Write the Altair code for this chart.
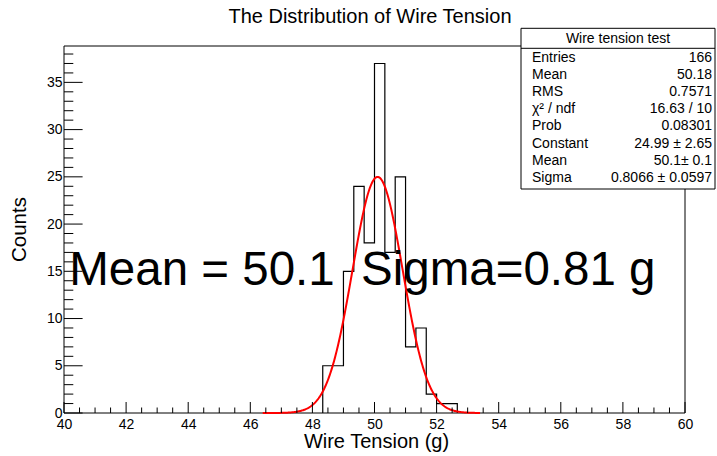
import altair as alt
import pandas as pd

# ---------------- data ----------------
bin_left = [48.3333, 48.6667, 49.0, 49.3333, 49.6667, 50.0, 50.3333,
            50.6667, 51.0, 51.3333, 51.6667, 52.0, 52.3333]
counts = [5, 5, 15, 24, 18, 37, 17, 25, 7, 9, 2, 1, 1]
bin_width = 1 / 3

fit_const, fit_mean, fit_sigma = 24.99, 50.1, 0.8066
fit_range = [46.4, 53.4]

x_major = [40, 42, 44, 46, 48, 50, 52, 54, 56, 58, 60]
x_minor = [m + d for m in x_major[:-1] for d in (0.5, 1.0, 1.5)]
y_major = [0, 5, 10, 15, 20, 25, 30, 35]
y_minor = [v for v in range(0, 39) if v % 5]

stats_title = "Wire tension test"
stats_labels = ["Entries", "Mean", "RMS", "χ² / ndf", "Prob", "Constant", "Mean", "Sigma"]
stats_values = ["166", "50.18", "0.7571", "16.63 / 10", "0.08301",
                "24.99 ± 2.65", "50.1± 0.1", "0.8066 ± 0.0597"]

x_domain = [40, 60]
y_domain = [0, 38.85]

FONT = "Liberation Sans"
W, H = 621, 367

# ---------------- build ----------------
hist_x = [bin_left[0]] + bin_left + [bin_left[-1] + bin_width]
hist_y = [0] + counts + [0]
hist_df = pd.DataFrame({"x": hist_x, "y": hist_y, "i": list(range(len(hist_x)))})

xs = alt.Scale(domain=x_domain, nice=False, zero=False)
ys = alt.Scale(domain=y_domain, nice=False, zero=False)
one = alt.Data(values=[{}])

x_axis = alt.Axis(
    values=x_major, tickSize=0, domain=False, grid=False, labelPadding=4,
    labelFontSize=14, labelFont=FONT, labelColor="#000", labelFlush=False,
    title="Wire Tension (g)", titleFont=FONT, titleFontSize=20,
    titleFontWeight="normal", titleColor="#000",
    titleX=312, titleY=34, titleBaseline="alphabetic", titleAlign="center")
y_axis = alt.Axis(
    values=y_major, tickSize=0, domain=False, grid=False, labelPadding=2,
    labelFontSize=14, labelFont=FONT, labelColor="#000",
    title="Counts", titleFont=FONT, titleFontSize=20.5,
    titleFontWeight="normal", titleColor="#000", titleAngle=270,
    titleX=-39, titleY=183, titleBaseline="alphabetic", titleAlign="center")

hist = alt.Chart(hist_df).mark_line(interpolate="step-after", color="black", strokeWidth=1.2).encode(
    x=alt.X("x:Q", scale=xs, axis=x_axis, title="Wire Tension (g)"),
    y=alt.Y("y:Q", scale=ys, axis=y_axis, title="Counts"),
    order="i:Q",
)

frame = alt.Chart(one).mark_rect(fillOpacity=0, stroke="black", strokeWidth=1).encode(
    x=alt.datum(x_domain[0]), x2=alt.datum(x_domain[1]),
    y=alt.datum(y_domain[0]), y2=alt.datum(y_domain[1]),
)

gauss = alt.Chart(alt.sequence(fit_range[0], fit_range[1] + 0.001, 0.02, as_="x")).transform_calculate(
    y=f"{fit_const}*exp(-0.5*pow((datum.x-{fit_mean})/{fit_sigma},2))"
).mark_line(color="#ff0000", strokeWidth=2).encode(
    x=alt.X("x:Q", title="Wire Tension (g)"), y=alt.Y("y:Q", title="Counts")
)

def yticks(vals, length):
    return alt.Chart(pd.DataFrame({"v": vals})).mark_rule(color="black", strokeWidth=1).encode(
        y=alt.Y("v:Q", title="Counts"), x=alt.value(0), x2=alt.value(length))

def xticks(vals, length):
    return alt.Chart(pd.DataFrame({"v": vals})).mark_rule(color="black", strokeWidth=1).encode(
        x=alt.X("v:Q", title="Wire Tension (g)"), y=alt.value(H), y2=alt.value(H - length))

big_text = alt.Chart(one).mark_text(
    font=FONT, fontSize=47.5, align="left", baseline="alphabetic", color="black"
).encode(x=alt.datum(40.17), y=alt.datum(13.6),
         text=alt.value("Mean = 50.1\u00a0\u00a0Sigma=0.81 g"))

box = alt.Chart(one).mark_rect(fill="white", stroke="black", strokeWidth=1).encode(
    x=alt.value(457), x2=alt.value(651), y=alt.value(-17.7), y2=alt.value(143))
box_sep = alt.Chart(one).mark_rule(color="black", strokeWidth=1).encode(
    x=alt.value(457), x2=alt.value(651), y=alt.value(2.3))
box_title = alt.Chart(one).mark_text(
    font=FONT, fontSize=14, align="center", baseline="alphabetic", color="black"
).encode(x=alt.value(554), y=alt.value(-2.7), text=alt.value(stats_title))
box_labels = alt.Chart(one).mark_text(
    font=FONT, fontSize=14, align="left", baseline="alphabetic", color="black",
    lineBreak="\n", lineHeight=17.2
).encode(x=alt.value(468), y=alt.value(15.7), text=alt.value("\n".join(stats_labels)))
box_values = alt.Chart(one).mark_text(
    font=FONT, fontSize=14, align="right", baseline="alphabetic", color="black",
    lineBreak="\n", lineHeight=17.2
).encode(x=alt.value(648), y=alt.value(15.7), text=alt.value("\n".join(stats_values)))

title = alt.Chart(one).mark_text(
    font=FONT, fontSize=20, align="center", baseline="alphabetic", color="black"
).encode(x=alt.value(306), y=alt.value(-23), text=alt.value("The Distribution of Wire Tension"))

chart = alt.layer(
    hist, frame, gauss,
    yticks(y_major, 18.6), yticks(y_minor, 9.3),
    xticks(x_major, 11), xticks(x_minor, 5.5),
    big_text, box, box_sep, box_title, box_labels, box_values, title,
).properties(
    width=W, height=H,
    padding={"left": 64, "top": 46, "right": 32, "bottom": 43},
    autosize=alt.AutoSizeParams(type="none"),
    background="white",
).configure_view(stroke="transparent")

chart.save("out.html", embed_options={"renderer": "svg", "actions": False})
